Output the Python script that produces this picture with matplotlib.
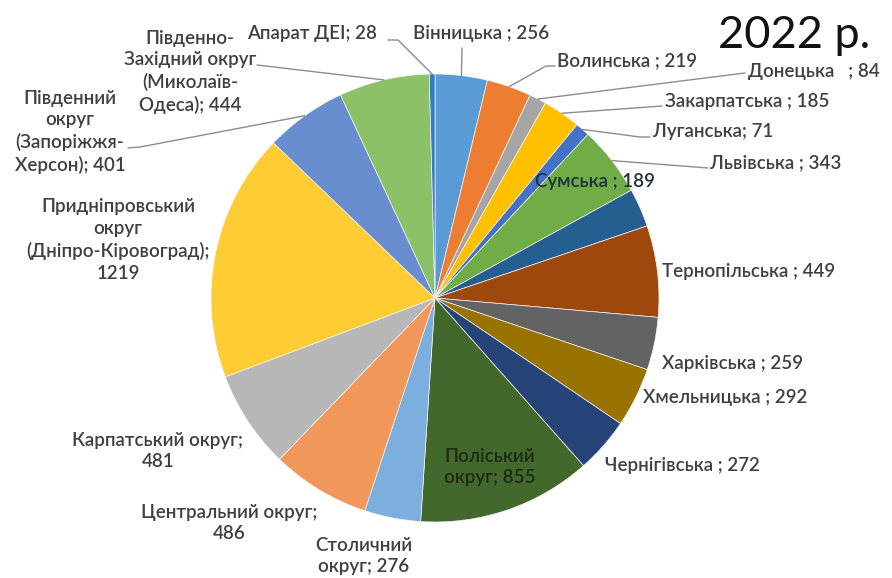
import numpy as np
import matplotlib
matplotlib.use("Agg")
import matplotlib.pyplot as plt

plt.rcParams['font.family'] = ['Lato', 'DejaVu Sans']

title = "2022 р."
labels = ["Вінницька ; 256", "Волинська ; 219", "Донецька   ; 84", "Закарпатська ; 185",
          "Луганська; 71", "Львівська ; 343", "Сумська ; 189", "Тернопільська ; 449",
          "Харківська ; 259", "Хмельницька ; 292", "Чернігівська ; 272",
          "Поліський\nокруг; 855", "Столичний\nокруг; 276", "Центральний округ;\n486",
          "Карпатський округ;\n481", "Придніпровський\nокруг\n(Дніпро-Кіровоград);\n1219",
          "Південний\nокруг\n(Запоріжжя-\nХерсон); 401",
          "Південно-\nЗахідний округ\n(Миколаїв-\nОдеса); 444", "Апарат ДЕІ; 28"]
values = [256, 219, 84, 185, 71, 343, 189, 449, 259, 292, 272, 855, 276, 486, 481, 1219, 401, 444, 28]
colors = ["#5B9BD5", "#ED7D31", "#A5A5A5", "#FFC000", "#4472C4", "#70AD47",
          "#255E91", "#9E480E", "#636363", "#997300", "#264478", "#43682B",
          "#7CAFDD", "#F1975A", "#B7B7B7", "#FFCD33", "#698ED0", "#8CC168", "#327DC2"]

W, H = 892, 578
fig = plt.figure(figsize=(W / 100, H / 100), dpi=100)
ax = fig.add_axes([0, 0, 1, 1])

cx, cy, R = 435, H - 298, 224
wedges, _ = ax.pie(values, colors=colors, startangle=90, counterclock=False,
                   center=(cx, cy), radius=R,
                   wedgeprops=dict(linewidth=0.5, edgecolor="#f4f4f4"))
ax.set_xlim(0, W)
ax.set_ylim(0, H)
ax.set_aspect('equal')
ax.axis('off')

# label layout (pixel coords from top-left): x, y, ha, leader-line points
layout = [
    (413, 33, 'left', [(462, 48)]),
    (557, 61, 'left', [(555, 66), (546, 66)]),
    (748, 72, 'left', [(745, 73)]),
    (665, 101, 'left', [(662, 106)]),
    (653, 131, 'left', [(650, 137), (640, 137)]),
    (710, 163, 'left', [(708, 168)]),
    (535, 182, 'left', None),
    (662, 272, 'left', None),
    (662, 363, 'left', None),
    (643, 398, 'left', None),
    (605, 465, 'left', None),
    (444, 467, 'left', None),
    (364, 556, 'center', None),
    (229, 523, 'center', None),
    (158, 451, 'center', None),
    (118, 240, 'center', None),
    (70, 132, 'center', [(128, 148), (140, 147)]),
    (190, 72, 'center', [(257, 65)]),
    (377, 33, 'right', [(388, 40), (398, 40)]),
]

txtcol = "#404040"
for i, (w, lab, (x, y, ha, pts)) in enumerate(zip(wedges, labels, layout)):
    col = "#1e2a14" if i == 11 else ("#1f2f3f" if i == 6 else txtcol)
    ax.text(x, H - y, lab, ha=ha, va='center', fontsize=13.5, color=col,
            fontweight='semibold', multialignment=ha, linespacing=1.33)
    if pts:
        mid = np.deg2rad((w.theta1 + w.theta2) / 2)
        ex = cx + R * np.cos(mid)
        ey = cy + R * np.sin(mid)
        xs = [p[0] for p in pts] + [ex]
        ys = [H - p[1] for p in pts] + [ey]
        ax.plot(xs, ys, color="#8c8c8c", lw=1, solid_capstyle='round')

ax.text(870, H - 35, title, ha='right', va='center', fontsize=32.5, color="#111111")

fig.savefig("out.png", dpi=100)
